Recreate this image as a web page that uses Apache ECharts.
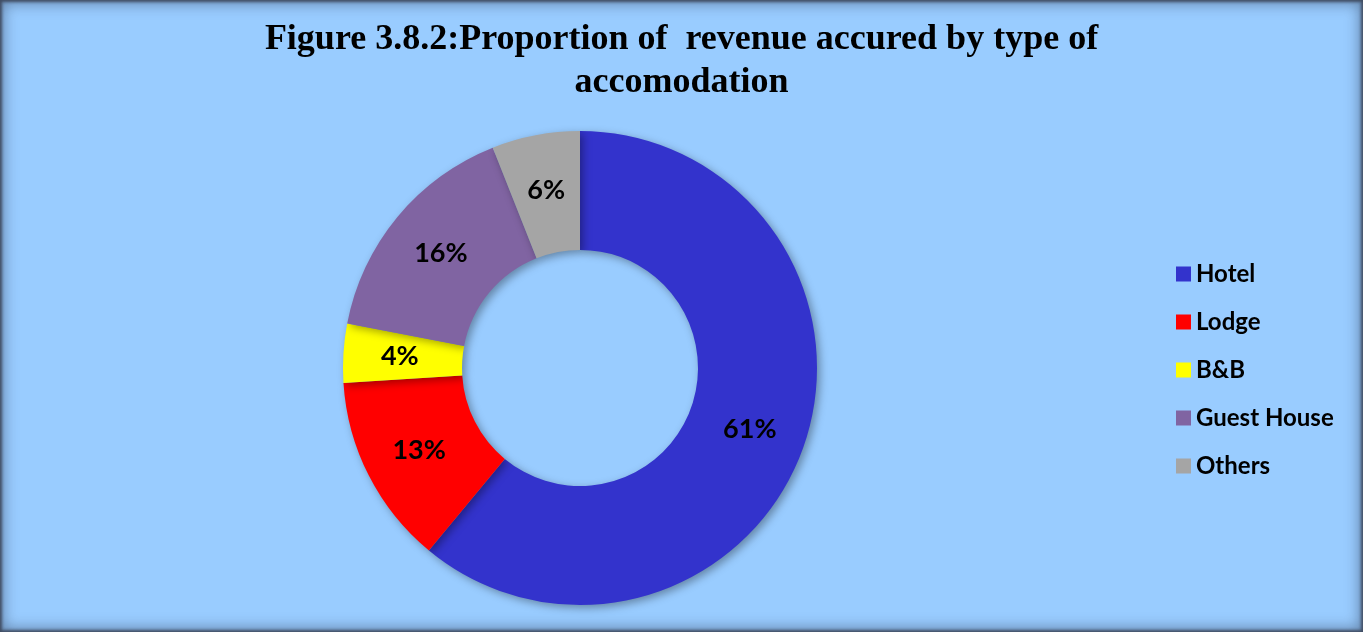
<!DOCTYPE html>
<html>
<head>
<meta charset="utf-8">
<script src="https://cdn.jsdelivr.net/npm/echarts@6/dist/echarts.min.js"></script>
<style>
  html, body { margin: 0; padding: 0; background: #99CCFF; }
  #wrap { position: relative; width: 1363px; height: 632px; background: #99CCFF;
          box-shadow: inset 0 0 3px 2px rgba(60,70,90,0.9), inset 0 0 14px 4px rgba(60,80,110,0.55); }
  #chart { position: absolute; left: 0; top: 0; width: 1363px; height: 632px; }
</style>
</head>
<body>
<div id="wrap"><div id="chart"></div></div>
<script>
const categories = ['Hotel', 'Lodge', 'B&B', 'Guest House', 'Others'];
const values = [61, 13, 4, 16, 6];
const colors = ['#3333CC', '#FF0000', '#FFFF00', '#8064A2', '#A5A5A5'];
const titleText = 'Figure 3.8.2:Proportion of  revenue accured by type of\naccomodation';

const chart = echarts.init(document.getElementById('chart'), null, { renderer: 'canvas' });
chart.setOption({
  backgroundColor: 'transparent',
  animation: false,
  title: {
    text: titleText,
    left: 'center',
    top: 13,
    textStyle: {
      fontFamily: 'Liberation Serif',
      fontWeight: 'bold',
      fontSize: 36,
      lineHeight: 43,
      color: '#000'
    }
  },
  legend: {
    orient: 'vertical',
    left: 1171,
    top: 257,
    itemWidth: 15,
    itemHeight: 15,
    itemGap: 24,
    icon: 'rect',
    data: categories,
    textStyle: {
      fontFamily: 'Lato',
      fontWeight: 'bold',
      fontSize: 24,
      lineHeight: 24,
      color: '#000'
    }
  },
  series: [{
    type: 'pie',
    center: [580, 368],
    radius: [118, 237],
    startAngle: 90,
    clockwise: true,
    avoidLabelOverlap: false,
    label: {
      show: true,
      position: 'inside',
      formatter: '{c}%',
      fontFamily: 'Lato',
      fontWeight: 'bold',
      fontSize: 27,
      color: '#000'
    },
    labelLine: { show: false },
    itemStyle: {
      shadowBlur: 8,
      shadowOffsetX: 3,
      shadowOffsetY: 3,
      shadowColor: 'rgba(0,0,0,0.35)'
    },
    emphasis: { disabled: true },
    data: categories.map((name, i) => ({ name, value: values[i], itemStyle: { color: colors[i] } }))
  }]
});
</script>
</body>
</html>
